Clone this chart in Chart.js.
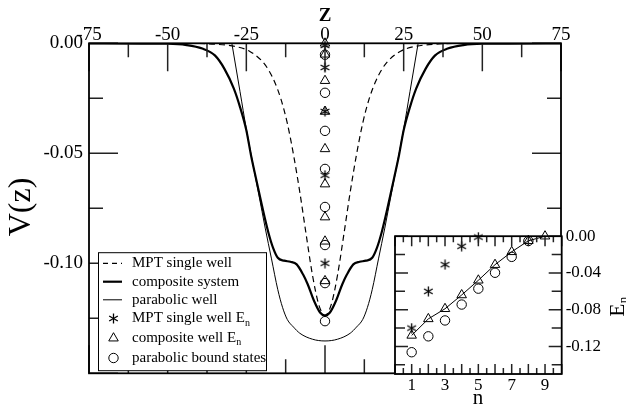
<!DOCTYPE html>
<html>
<head>
<meta charset="utf-8">
<script src="https://cdn.jsdelivr.net/npm/chart.js@4"></script>
<style>
  html, body { margin: 0; padding: 0; background: #fff; }
  #wrap { position: relative; width: 626px; height: 411px; }
  #main { position: absolute; left: 0; top: 0; }
  #inset { position: absolute; left: 385px; top: 222px; }
</style>
</head>
<body>
<div id="wrap">
  <canvas id="main" width="626" height="411"></canvas>
  <canvas id="inset" width="241" height="189"></canvas>
</div>
<script>
// potential curves
const mptZ = [-75, -45, -35, -28, -24, -20, -18, -16, -14, -12, -10, -8, -6, -4, -2, 0, 2, 4, 6, 8, 10, 12, 14, 16, 18, 20, 24, 28, 35, 45, 75];
const mptV = [0, 0, -0.0004, -0.0016, -0.0036, -0.0081, -0.0120, -0.0176, -0.0254, -0.0362, -0.0507, -0.0677, -0.0868, -0.1052, -0.1187, -0.1237,
  -0.1187, -0.1052, -0.0868, -0.0677, -0.0507, -0.0362, -0.0254, -0.0176, -0.0120, -0.0081, -0.0036, -0.0016, -0.0004, 0, 0];

const compZ = [-75, -50, -44, -39, -35, -32, -29, -27, -25, -23.5, -22, -20, -18, -16.5, -15, -13, -11, -9, -7, -5.5, -3.5, -1.5, 0,
  1.5, 3.5, 5.5, 7, 9, 11, 13, 15, 16.5, 18, 20, 22, 23.5, 25, 27, 29, 32, 35, 39, 44, 50, 75];
const compV = [0, -0.0002, -0.0008, -0.0024, -0.0055, -0.0115, -0.0205, -0.029, -0.0395, -0.051, -0.061, -0.074, -0.086, -0.093, -0.0975, -0.0988, -0.0993, -0.1005, -0.105, -0.1095, -0.117, -0.1225, -0.1238,
  -0.1225, -0.117, -0.1095, -0.105, -0.1005, -0.0993, -0.0988, -0.0975, -0.093, -0.086, -0.074, -0.061, -0.051, -0.0395, -0.029, -0.0205, -0.0115, -0.0055, -0.0024, -0.0008, -0.0002, 0];

const paraZ = [-29.6, -27, -25, -23.3, -21, -19, -17, -15, -13.5, -12, -10, -8, -4, 0, 4, 8, 10, 12, 13.5, 15, 17, 19, 21, 23.3, 25, 27, 29.6];
const paraV = [0, -0.022, -0.039, -0.052, -0.069, -0.084, -0.098, -0.112, -0.120, -0.1255, -0.129, -0.1318, -0.1345, -0.1353,
  -0.1345, -0.1318, -0.129, -0.1255, -0.120, -0.112, -0.098, -0.084, -0.069, -0.052, -0.039, -0.022, 0];

// energy levels
const levels = [1, 2, 3, 4, 5, 6, 7, 8, 9];
const mptEn = [-0.100, -0.060, -0.031, -0.011, -0.001];
const compEn = [-0.108, -0.090, -0.079, -0.064, -0.048, -0.031, -0.017, -0.005, 0.000];
const paraEn = [-0.1263, -0.1090, -0.0917, -0.0744, -0.0571, -0.0398, -0.0225, -0.0052];

const legendLabels = ['MPT single well', 'composite system', 'parabolic well', 'MPT single well E', 'composite well E', 'parabolic bound states'];

const serif = "'Liberation Serif', 'Times New Roman', serif";

function makeAsterisk(size) {
  const c = document.createElement('canvas');
  c.width = size; c.height = size;
  const g = c.getContext('2d');
  g.strokeStyle = '#000';
  g.lineWidth = 1.3;
  const cx = size / 2, cy = size / 2, r = size / 2 - 0.5;
  for (let k = 0; k < 3; k++) {
    const a = Math.PI / 2 + k * Math.PI / 3;
    g.beginPath();
    g.moveTo(cx + r * Math.cos(a), cy + r * Math.sin(a));
    g.lineTo(cx - r * Math.cos(a), cy - r * Math.sin(a));
    g.stroke();
  }
  return c;
}
const star = makeAsterisk(11);

const pts = (xs, ys) => ys.map((v, i) => ({ x: xs[i], y: v }));
const atZero = ys => ys.map(v => ({ x: 0, y: v }));

function drawTri(ctx, x, y, r) {
  ctx.beginPath();
  ctx.moveTo(x, y - r);
  ctx.lineTo(x + r * 0.866, y + r * 0.5);
  ctx.lineTo(x - r * 0.866, y + r * 0.5);
  ctx.closePath();
  ctx.stroke();
}

function frameTicks(chart, xStep, xMajor, xLen, yStep, yMajor, yLen) {
  const { ctx, chartArea: a, scales } = chart;
  const near = (v, m) => Math.abs(v / m - Math.round(v / m)) < 1e-6;
  ctx.save();
  ctx.strokeStyle = '#222';
  ctx.lineWidth = 1.5;
  for (let v = scales.x.min; v <= scales.x.max + 1e-9; v += xStep) {
    const px = scales.x.getPixelForValue(v);
    const L = near(v, xMajor) ? xLen[0] : xLen[1];
    ctx.beginPath();
    ctx.moveTo(px, a.top); ctx.lineTo(px, a.top + L);
    ctx.moveTo(px, a.bottom); ctx.lineTo(px, a.bottom - L);
    ctx.stroke();
  }
  const y0 = Math.ceil(scales.y.min / yStep - 1e-6) * yStep;
  for (let v = y0; v <= scales.y.max + 1e-9; v += yStep) {
    const py = scales.y.getPixelForValue(v);
    const L = near(v, yMajor) ? yLen[0] : yLen[1];
    ctx.beginPath();
    ctx.moveTo(a.left, py); ctx.lineTo(a.left + L, py);
    ctx.moveTo(a.right, py); ctx.lineTo(a.right - L, py);
    ctx.stroke();
  }
  ctx.strokeStyle = '#000';
  ctx.lineWidth = 1.8;
  ctx.strokeRect(a.left, a.top, a.right - a.left, a.bottom - a.top);
  ctx.restore();
}

const mainDecor = {
  id: 'mainDecor',
  afterDraw(chart) {
    const ctx = chart.ctx;
    frameTicks(chart, 12.5, 25, [28, 14], 0.025, 0.05, [29, 14]);

    ctx.save();
    ctx.fillStyle = '#000';
    ctx.textAlign = 'center';
    ctx.textBaseline = 'middle';
    ctx.font = 'bold 19px ' + serif;
    ctx.fillText('Z', 325, 16);
    ctx.translate(22, 207);
    ctx.rotate(-Math.PI / 2);
    ctx.font = '32px ' + serif;
    ctx.fillText('V(z)', 0, 0);
    ctx.restore();

    // legend box
    const bx = 98.5, by = 252.7, bw = 168, bh = 118;
    ctx.save();
    ctx.fillStyle = '#fff';
    ctx.fillRect(bx, by, bw, bh);
    ctx.strokeStyle = '#000';
    ctx.lineWidth = 1;
    ctx.strokeRect(bx, by, bw, bh);
    const rows = [263.3, 281.7, 299.8, 318.5, 337.7, 358];
    ctx.font = '15px ' + serif;
    ctx.textBaseline = 'middle';
    ctx.fillStyle = '#000';
    legendLabels.forEach((lab, i) => {
      const y = rows[i];
      if (i < 3) {
        ctx.beginPath();
        ctx.lineWidth = [1.2, 2.2, 1][i];
        ctx.setLineDash(i === 0 ? [5, 4] : []);
        ctx.moveTo(103, y); ctx.lineTo(122, y);
        ctx.stroke();
        ctx.setLineDash([]);
      } else if (i === 3) {
        ctx.drawImage(star, 113.5 - 5.5, y - 5.5);
      } else if (i === 4) {
        ctx.lineWidth = 1;
        drawTri(ctx, 113.5, y + 0.5, 5.5);
      } else {
        ctx.lineWidth = 1;
        ctx.beginPath(); ctx.arc(113.5, y, 4.7, 0, 2 * Math.PI); ctx.stroke();
      }
      ctx.textAlign = 'left';
      ctx.fillText(lab, 132, y);
      if (i === 3 || i === 4) {
        const w = ctx.measureText(lab).width;
        ctx.font = '10px ' + serif;
        ctx.fillText('n', 132 + w, y + 5);
        ctx.font = '15px ' + serif;
      }
    });
    ctx.restore();
  }
};

const yLabel = step => v => {
  if (Math.abs(v) < 1e-9) return '0.00';
  if (Math.abs(v / step - Math.round(v / step)) > 1e-6) return '';
  if (v < -0.1451) return '';
  return v.toFixed(2);
};

new Chart(document.getElementById('main'), {
  type: 'line',
  data: {
    datasets: [
      { data: pts(mptZ, mptV), borderColor: '#000', borderWidth: 1.2, borderDash: [6, 4], pointRadius: 0, cubicInterpolationMode: 'monotone' },
      { data: pts(compZ, compV), borderColor: '#000', borderWidth: 2.2, pointRadius: 0, cubicInterpolationMode: 'monotone' },
      { data: pts(paraZ, paraV), borderColor: '#000', borderWidth: 1, pointRadius: 0, cubicInterpolationMode: 'monotone' },
      { data: atZero(mptEn), showLine: false, pointStyle: star, pointRadius: 5, clip: false },
      { data: atZero(compEn), showLine: false, pointStyle: 'triangle', pointRadius: 5.5, pointBorderWidth: 1, pointBorderColor: '#000', pointBackgroundColor: 'rgba(0,0,0,0)', clip: false },
      { data: atZero(paraEn), showLine: false, pointStyle: 'circle', pointRadius: 4.7, pointBorderWidth: 1, pointBorderColor: '#000', pointBackgroundColor: 'rgba(0,0,0,0)', clip: false }
    ]
  },
  options: {
    responsive: false,
    animation: false,
    devicePixelRatio: 1,
    layout: { padding: { left: 0, right: 65, top: 0, bottom: 37.7 } },
    plugins: { legend: { display: false }, tooltip: { enabled: false } },
    scales: {
      x: {
        type: 'linear', position: 'top', min: -75, max: 75,
        ticks: { stepSize: 25, maxRotation: 0, color: '#000', padding: -3, font: { family: serif, size: 19 } },
        grid: { display: false, drawTicks: false }, border: { display: false },
        afterFit: s => { s.height = 43.3; }
      },
      y: {
        type: 'linear', min: -0.15, max: 0,
        ticks: { stepSize: 0.05, color: '#000', padding: 6, font: { family: serif, size: 19 }, callback: yLabel(0.05) },
        grid: { display: false, drawTicks: false }, border: { display: false },
        afterFit: s => { s.width = 89; }
      }
    }
  },
  plugins: [mainDecor]
});

const insetDecor = {
  id: 'insetDecor',
  beforeDatasetsDraw(chart) {
    const { ctx, chartArea: a } = chart;
    ctx.save();
    ctx.fillStyle = '#fff';
    ctx.fillRect(a.left, a.top, a.right - a.left, a.bottom - a.top);
    ctx.restore();
  },
  afterDraw(chart) {
    const ctx = chart.ctx;
    frameTicks(chart, 0.5, 1, [10, 6], 0.02, 0.04, [13, 10]);
    ctx.save();
    ctx.fillStyle = '#000';
    ctx.textAlign = 'center';
    ctx.textBaseline = 'middle';
    ctx.font = '21px ' + serif;
    ctx.fillText('n', 93, 176);
    ctx.translate(233, 88);
    ctx.rotate(-Math.PI / 2);
    ctx.fillText('E', 0, 0);
    ctx.font = '13px ' + serif;
    ctx.fillText('n', 10, 6);
    ctx.restore();
  }
};

new Chart(document.getElementById('inset'), {
  type: 'line',
  data: {
    datasets: [
      { data: pts(levels, mptEn), showLine: false, pointStyle: star, pointRadius: 5, clip: false },
      { data: pts(levels, compEn), showLine: true, borderColor: '#000', borderWidth: 1, pointStyle: 'triangle', pointRadius: 5.5, pointBorderWidth: 1, pointBorderColor: '#000', pointBackgroundColor: 'rgba(0,0,0,0)', clip: false },
      { data: pts(levels, paraEn), showLine: false, pointStyle: 'circle', pointRadius: 4.7, pointBorderWidth: 1, pointBorderColor: '#000', pointBackgroundColor: 'rgba(0,0,0,0)', clip: false }
    ]
  },
  options: {
    responsive: false,
    animation: false,
    devicePixelRatio: 1,
    layout: { padding: { left: 10, right: 0, top: 10.7, bottom: 0 } },
    plugins: { legend: { display: false }, tooltip: { enabled: false } },
    scales: {
      x: {
        type: 'linear', min: 0, max: 10,
        ticks: { stepSize: 1, autoSkip: false, maxRotation: 0, color: '#000', padding: 1, font: { family: serif, size: 17 },
          callback: v => (v % 2 === 1 ? String(v) : '') },
        grid: { display: false, drawTicks: false }, border: { display: false },
        afterFit: s => { s.height = 37; }
      },
      y: {
        type: 'linear', position: 'right', min: -0.15, max: 0,
        ticks: { stepSize: 0.02, autoSkip: false, color: '#000', padding: 4, font: { family: serif, size: 17 }, callback: yLabel(0.04) },
        grid: { display: false, drawTicks: false }, border: { display: false },
        afterFit: s => { s.width = 64.3; }
      }
    }
  },
  plugins: [insetDecor]
});
</script>
</body>
</html>
